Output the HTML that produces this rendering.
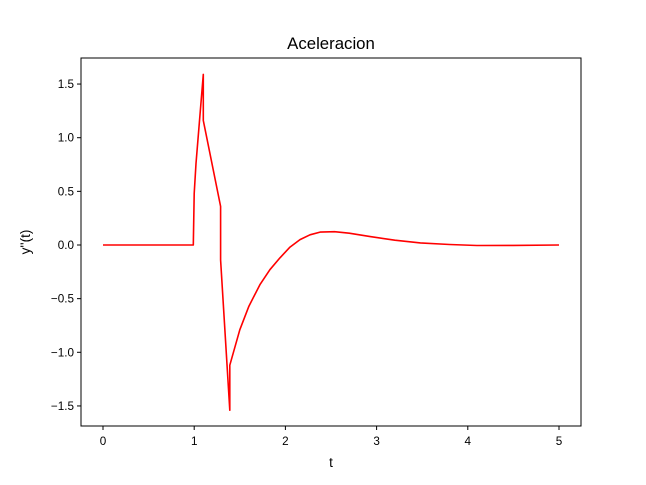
<!DOCTYPE html>
<html><head><meta charset="utf-8"><style>
body{margin:0;background:#fff}
svg text{font-family:"Liberation Sans","DejaVu Sans",sans-serif;fill:#000}
</style></head><body>
<svg id="c" width="646" height="480">
<rect x="0" y="0" width="646" height="480" fill="#fff"/>
<text x="331" y="49" font-size="16.8" text-anchor="middle">Aceleracion</text>
<text x="331" y="467" font-size="13.5" text-anchor="middle">t</text>
<text x="0" y="0" font-size="13.5" text-anchor="middle" transform="translate(30,242) rotate(-90)">y''(t)</text>
<g id="ticks"></g>
<path id="line" fill="none" stroke="#ff0000" stroke-width="1.6" stroke-linejoin="round"/>
<rect x="81" y="58" width="500" height="368" fill="none" stroke="#000" stroke-width="1"/>
</svg>
<script>
const tValues=[0,0.99,1.0,1.02,1.1,1.1,1.29,1.29,1.39,1.39,1.5,1.6,1.72,1.83,1.94,2.05,2.16,2.27,2.38,2.54,2.7,2.93,3.2,3.48,3.8,4.1,4.5,5];
const yValues=[0,0,0.48,0.76,1.59,1.16,0.36,-0.14,-1.54,-1.12,-0.79,-0.57,-0.37,-0.23,-0.12,-0.02,0.05,0.095,0.12,0.124,0.11,0.078,0.045,0.02,0.005,-0.005,-0.004,0];
const xTicks=[0,1,2,3,4,5];
const yTicks=[-1.5,-1.0,-0.5,0.0,0.5,1.0,1.5];
const yTickLabels=["\u22121.5","\u22121.0","\u22120.5","0.0","0.5","1.0","1.5"];
const X=v=>103+v*91.2, Y=v=>245-v*107.3;
const ns="http://www.w3.org/2000/svg", g=document.getElementById('ticks');
function mk(tag,attrs,txt){const e=document.createElementNS(ns,tag);for(const k in attrs)e.setAttribute(k,attrs[k]);if(txt!==undefined)e.textContent=txt;g.appendChild(e);return e;}
xTicks.forEach(v=>{
 const l=mk('line',{x1:X(v),x2:X(v),y1:426,y2:430,stroke:'#000'});
 
 
 const t=mk('text',{x:X(v),y:445,'font-size':11.7,'text-anchor':'middle'},String(v));
 
 
});
yTicks.forEach((v,i)=>{
 const l=mk('line',{x1:77,x2:81,y1:Y(v),y2:Y(v),stroke:'#000'});
 
 
 const t=mk('text',{x:74,y:Y(v)+4,'font-size':11.7,'text-anchor':'end'},yTickLabels[i]);
 
 
});
document.getElementById('line').setAttribute('d',tValues.map((t,i)=>(i?'L':'M')+X(t).toFixed(1)+','+Y(yValues[i]).toFixed(1)).join(''));
</script>
</body></html>
